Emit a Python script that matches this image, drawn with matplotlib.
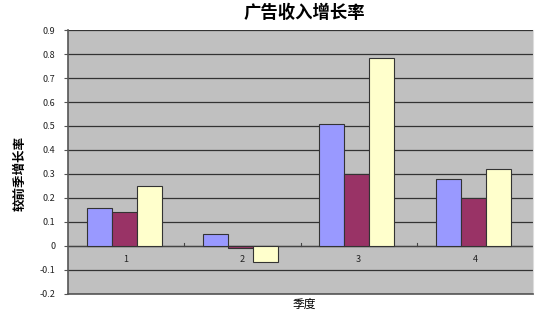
import numpy as np
import matplotlib
matplotlib.use('Agg')
import matplotlib.pyplot as plt

plt.rcParams['font.family'] = ['Noto Sans CJK SC', 'DejaVu Sans']

# quarterly ad revenue growth, three series per quarter
quarters = ['1', '2', '3', '4']
series_a = [0.16, 0.05, 0.51, 0.28]
series_b = [0.14, -0.01, 0.30, 0.20]
series_c = [0.25, -0.065, 0.785, 0.32]
colors = ['#9999FF', '#993366', '#FFFFCC']

fig = plt.figure(figsize=(5.44, 3.13), dpi=100)
ax = fig.add_axes([0.125, 0.061, 0.855, 0.843])
ax.set_facecolor('#C0C0C0')

x = np.arange(1, len(quarters) + 1)
w = 0.215
for i, (vals, c) in enumerate(zip([series_a, series_b, series_c], colors)):
    ax.bar(x + (i - 1) * w - 0.015, vals, width=w, color=c, edgecolor='#333333', linewidth=0.8, zorder=3)

ax.set_xlim(0.5, 4.5)
ax.set_ylim(-0.2, 0.9)
yt = np.round(np.arange(-0.2, 0.91, 0.1), 1)
ax.set_yticks(yt)
ax.set_yticklabels(['0' if v == 0 else f'{v:g}' for v in yt], fontsize=6.5, color='#222222')
ax.yaxis.grid(True, color='#333333', linewidth=0.9, zorder=1)
ax.tick_params(axis='y', length=3, width=0.8, color='#555555', pad=6)
ax.set_xticks([])

# zero line with category tick marks and labels beneath it
ax.axhline(0, color='#444444', linewidth=0.9, zorder=2)
for b in x[:-1] + 0.5:
    ax.plot([b, b], [0, 0.012], color='#444444', linewidth=0.8, zorder=2)
for xi, q in zip(x, quarters):
    ax.text(xi, -0.055, q, ha='center', va='center', fontsize=6.5, color='#222222')

ax.spines['top'].set_visible(False)
ax.spines['right'].set_color('#DDDDDD')
ax.spines['left'].set_color('#555555')
ax.spines['bottom'].set_color('#555555')
ax.spines['left'].set_linewidth(1.2)
ax.spines['bottom'].set_linewidth(1.2)

fig.text(0.559, 0.96, '广告收入增长率', ha='center', va='center', fontsize=12.5, fontweight='bold')
fig.text(0.559, 0.026, '季度', ha='center', va='center', fontsize=8.5)
fig.text(0.037, 0.446, '较前季增长率', ha='center', va='center', fontsize=9, rotation=90, fontweight='bold')

fig.savefig('out.png', dpi=100)
